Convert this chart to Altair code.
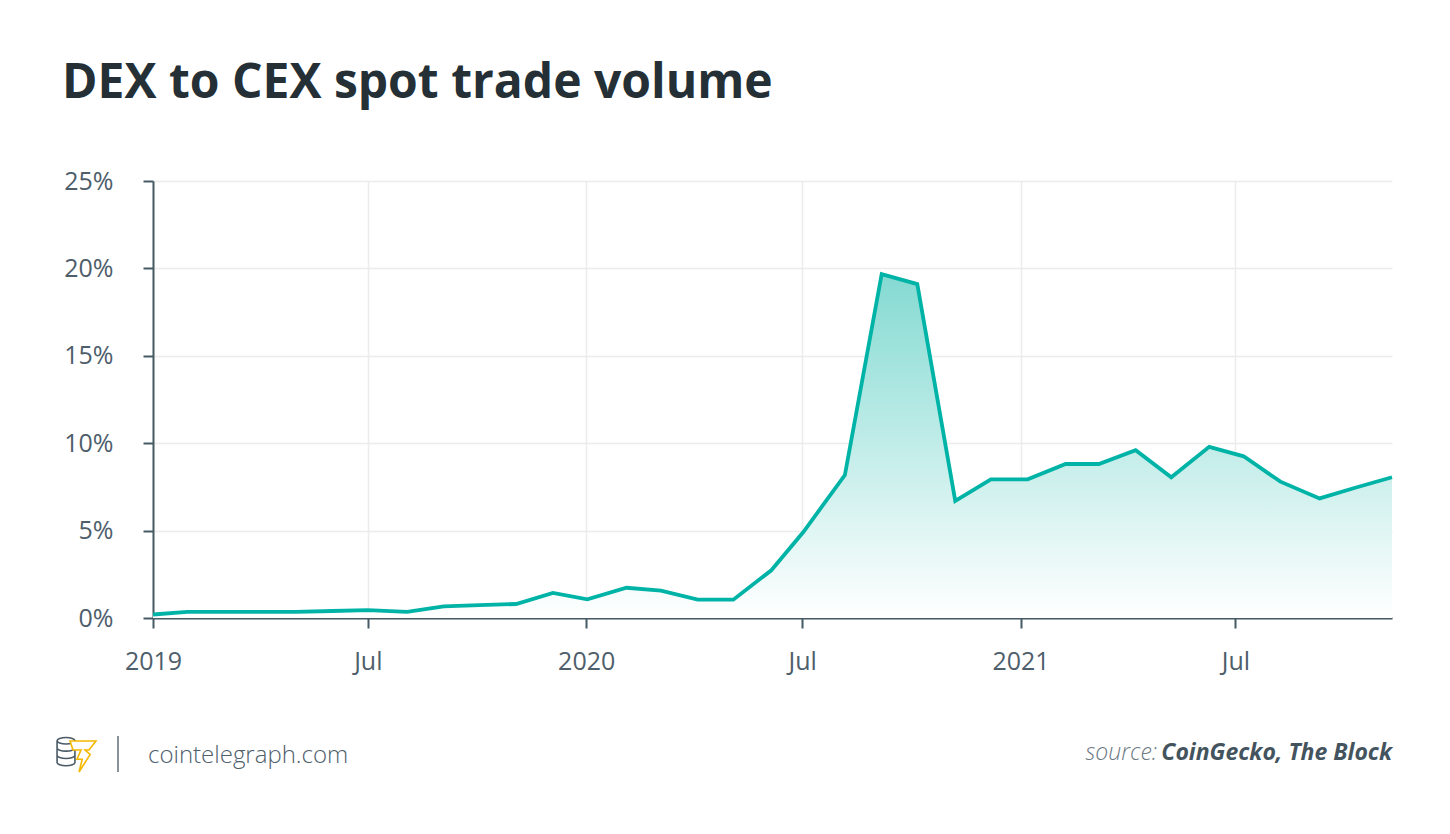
import altair as alt
import pandas as pd

# ---- data ----
dates = [
    "2019-01-01", "2019-01-30", "2019-03-01", "2019-04-01", "2019-05-01", "2019-06-01",
    "2019-07-01", "2019-08-03", "2019-09-03", "2019-10-03", "2019-11-03", "2019-12-04",
    "2020-01-02", "2020-02-04", "2020-03-04", "2020-04-04", "2020-05-04", "2020-06-05",
    "2020-07-02", "2020-08-06", "2020-09-06", "2020-10-06", "2020-11-07", "2020-12-07",
    "2021-01-07", "2021-02-08", "2021-03-08", "2021-04-08", "2021-05-08", "2021-06-09",
    "2021-07-08", "2021-08-08", "2021-09-10", "2021-10-10", "2021-11-10",
]
share = [
    0.20, 0.35, 0.35, 0.35, 0.35, 0.40,
    0.45, 0.35, 0.67, 0.74, 0.80, 1.43,
    1.07, 1.73, 1.56, 1.05, 1.05, 2.73,
    4.92, 8.18, 19.67, 19.10, 6.70, 7.93,
    7.93, 8.81, 8.81, 9.60, 8.05, 9.79,
    9.25, 7.80, 6.84, 7.45, 8.05,
]
y_ticks = [0, 5, 10, 15, 20, 25]
x_ticks = ["2019-01-01", "2019-07-01", "2020-01-01", "2020-07-01", "2021-01-01", "2021-07-01"]

title_text = "DEX to CEX spot trade volume"
site_text = "cointelegraph.com"
source_label = "source:"
source_text = "CoinGecko, The Block"

df = pd.DataFrame({"date": dates, "share": share})

W, H = 1239, 437
FONT = "Open Sans"
LINE = "#00b3a7"
TXT = "#4e5e6b"
AX = "#455a64"

x_values = [alt.DateTime(year=int(d[:4]), month=int(d[5:7]), date=1, utc=True) for d in x_ticks]

x_enc = alt.X(
    "date:T",
    scale=alt.Scale(type="utc", nice=False),
    axis=alt.Axis(
        title=None,
        values=x_values,
        labelExpr="utcFormat(datum.value, '%m') == '01' ? utcFormat(datum.value, '%Y') : utcFormat(datum.value, '%b')",
        labelPadding=21,
        labelFlush=False,
    ),
)
y_enc = alt.Y(
    "share:Q",
    scale=alt.Scale(domain=[0, 25], nice=False),
    axis=alt.Axis(
        title=None,
        values=y_ticks,
        labelExpr="datum.value + '%'",
        labelPadding=30,
    ),
)

area = alt.Chart(df).mark_area(
    line=False,
    color=alt.Gradient(
        gradient="linear",
        stops=[
            alt.GradientStop(color="#84dad2", offset=0),
            alt.GradientStop(color="#ffffff", offset=1),
        ],
        x1=1, x2=1, y1=0, y2=1,
    ),
).encode(x=x_enc, y=y_enc)

line = alt.Chart(df).mark_line(color=LINE, strokeWidth=3.8, strokeJoin="miter").encode(
    x="date:T", y="share:Q"
)

one = pd.DataFrame({"k": [0]})

title = alt.Chart(one).mark_text(
    text=title_text, font=FONT, fontSize=48, fontWeight="bold", color="#253036",
    align="left", baseline="alphabetic",
).encode(x=alt.value(-91), y=alt.value(-83))

site = alt.Chart(one).mark_text(
    text=site_text, font=FONT, fontSize=24, fontWeight=300, color=TXT, align="left", baseline="alphabetic",
).encode(x=alt.value(-5), y=alt.value(582))

sep = alt.Chart(one).mark_rule(color="#8a9399", strokeWidth=2).encode(
    x=alt.value(-35), y=alt.value(555), y2=alt.value(591)
)

src_bold = alt.Chart(one).mark_text(
    text=source_text, font=FONT, fontSize=23, fontWeight="bold", fontStyle="italic",
    color="#44545f", align="right", baseline="alphabetic",
).encode(x=alt.value(1239), y=alt.value(579))

src_lbl = alt.Chart(one).mark_text(
    text=source_label, font=FONT, fontSize=23, fontStyle="italic", fontWeight=300,
    color="#6b7983", align="right", baseline="alphabetic",
).encode(x=alt.value(1004), y=alt.value(579))

coins_path = (
    "M-0.47,-0.7 A0.47,0.17 0 1,1 0.47,-0.7 A0.47,0.17 0 1,1 -0.47,-0.7 Z "
    "M-0.47,-0.7 L-0.47,0.45 A0.47,0.17 0 0,0 0.47,0.45 L0.47,-0.7 "
    "M-0.47,-0.32 A0.47,0.17 0 0,0 0.47,-0.32 "
    "M-0.47,0.07 A0.47,0.17 0 0,0 0.47,0.07"
)
coins = alt.Chart(one).mark_point(
    shape=coins_path, size=38 * 38, filled=False, stroke="#4a5a66", strokeWidth=1.6, opacity=1,
).encode(x=alt.value(66 - 153), y=alt.value(754 - 181))

bolt_path = (
    "M-0.81,-0.94 L0.81,-0.94 L0.375,-0.375 L0.125,-0.375 L0.45,-0.1 "
    "L-0.25,1.0 L-0.05,0.2 L-0.375,0.2 L-0.125,-0.375 L-0.625,-0.375 Z"
)
bolt = alt.Chart(one).mark_point(
    shape=bolt_path, size=32 * 32, filled=True, fill="#ffffff", fillOpacity=1,
    stroke="#f5b800", strokeWidth=1.6, opacity=1,
).encode(x=alt.value(83 - 153), y=alt.value(756 - 181))

chart = alt.layer(area, line, title, site, sep, src_bold, src_lbl, coins, bolt).properties(
    width=W, height=H,
    background="#ffffff",
    autosize=alt.AutoSizeParams(type="none"),
    padding={"left": 145, "top": 173, "right": 50, "bottom": 208},
).configure_view(stroke=None).configure_axis(
    labelFont=FONT, labelFontSize=25, labelColor=TXT,
    domainColor=AX, domainWidth=2, tickColor=AX, tickWidth=2, tickSize=10,
    gridColor="#ececec", gridWidth=1.5,
)

chart.save("out.html", embed_options={"renderer": "svg", "actions": False})
